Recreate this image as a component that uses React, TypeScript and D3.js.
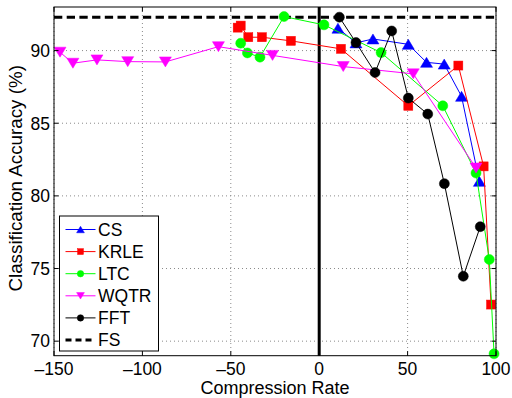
import React from "react";
import * as d3 from "d3";

// Axis ticks
const xTicks = [-150, -100, -50, 0, 50, 100];
const yTicks = [70, 75, 80, 85, 90];

// Series: compression rate (x) vs. classification accuracy (y)
const csX = [10.6, 20.8, 30.4, 50.4, 60.7, 70.7, 80.5, 90.6];
const csY = [91.54, 90.53, 90.8, 90.43, 89.19, 89.07, 86.85, 81.0];

const krleX = [-46.1, -44.4, -40.1, -32.4, -16.0, 12.3, 50.4, 78.7, 93.0, 97.2];
const krleY = [91.58, 91.72, 90.92, 90.92, 90.67, 90.12, 86.2, 88.97, 82.03, 72.52];

const ltcX = [-44.4, -40.6, -33.5, -19.9, 2.7, 35.0, 69.9, 88.7, 96.2, 98.9];
const ltcY = [90.51, 89.84, 89.55, 92.34, 91.77, 89.86, 86.2, 81.57, 75.62, 69.13];

const wqtrX = [-146.6, -139.3, -125.7, -108.3, -87.0, -57.0, -26.4, 13.6, 53.2, 88.7];
const wqtrY = [89.89, 89.13, 89.36, 89.24, 89.22, 90.27, 89.67, 88.9, 88.4, 81.92];

const fftX = [11.4, 20.8, 31.6, 41.0, 50.4, 61.4, 70.8, 81.5, 91.1];
const fftY = [92.3, 90.55, 88.49, 91.35, 86.73, 85.63, 80.84, 74.47, 77.88];

const fsAccuracy = 92.3;

const seriesNames = ["CS", "KRLE", "LTC", "WQTR", "FFT"];
const seriesColors = ["#0000ff", "#ff0000", "#00ff00", "#ff00ff", "#000000"];
const seriesMarkers = ["up", "square", "circle", "down", "circle"];
const seriesXs = [csX, krleX, ltcX, wqtrX, fftX];
const seriesYs = [csY, krleY, ltcY, wqtrY, fftY];

const W = 512;
const H = 398;
const left = 54;
const right = 496;
const top = 7;
const bottom = 355.7;

const FONT = "'Liberation Sans', Arial, Helvetica, sans-serif";

function Marker({ kind, x, y, color, s }: { kind: string; x: number; y: number; color: string; s: number }) {
  if (kind === "circle") {
    return <circle cx={x} cy={y} r={s / 2} fill={color} stroke={color} strokeWidth={0.5} />;
  }
  if (kind === "square") {
    const h = s * 0.9;
    return <rect x={x - h / 2} y={y - h / 2} width={h} height={h} fill={color} stroke={color} strokeWidth={0.5} />;
  }
  const hw = s * 0.6;
  const hh = s * 0.5;
  const pts =
    kind === "up"
      ? [[x, y - hh], [x + hw, y + hh], [x - hw, y + hh]]
      : [[x, y + hh], [x + hw, y - hh], [x - hw, y - hh]];
  return <polygon points={pts.map((p) => p.join(",")).join(" ")} fill={color} stroke={color} strokeWidth={0.5} />;
}

export default function App() {
  const x = d3.scaleLinear().domain([-150, 100]).range([left, right]);
  const y = d3.scaleLinear().domain([69, 93]).range([bottom, top]);
  const line = d3
    .line<[number, number]>()
    .x((d) => x(d[0]))
    .y((d) => y(d[1]));

  const tickLen = 4.5;
  const legX = 59.5;
  const legY = 216;
  const legW = 99;
  const legH = 135;
  const legRow0 = 229.5;
  const legStep = 22.1;

  return (
    <svg width={W} height={H} style={{ position: "absolute", left: 0, top: 0, background: "#fff" }}>
      <rect x={0} y={0} width={W} height={H} fill="#fff" />
      {/* dotted grid */}
      <g stroke="#8a8a8a" strokeWidth={1} strokeDasharray="1,3">
        {xTicks.map((t) => (
          <line key={"gx" + t} x1={x(t)} x2={x(t)} y1={top} y2={bottom} />
        ))}
        {yTicks.map((t) => (
          <line key={"gy" + t} x1={left} x2={right} y1={y(t)} y2={y(t)} />
        ))}
      </g>

      {/* zero compression reference and full-signal accuracy */}
      <line x1={x(0)} x2={x(0)} y1={top} y2={bottom} stroke="#000" strokeWidth={3} />
      <line
        x1={left}
        x2={right}
        y1={y(fsAccuracy)}
        y2={y(fsAccuracy)}
        stroke="#000"
        strokeWidth={3}
        strokeDasharray="8.3,4.4"
      />

      {/* series */}
      {seriesNames.map((name, i) => {
        const pts: [number, number][] = seriesXs[i].map((v, j) => [v, seriesYs[i][j]]);
        return (
          <g key={name}>
            <path d={line(pts) || ""} fill="none" stroke={seriesColors[i]} strokeWidth={1} />
            {pts.map((p, j) => (
              <Marker key={j} kind={seriesMarkers[i]} x={x(p[0])} y={y(p[1])} color={seriesColors[i]} s={10} />
            ))}
          </g>
        );
      })}

      {/* axes box and ticks */}
      <rect x={left} y={top} width={right - left} height={bottom - top} fill="none" stroke="#000" strokeWidth={1} />
      <g stroke="#000" strokeWidth={1}>
        {xTicks.map((t) => (
          <g key={"tx" + t}>
            <line x1={x(t)} x2={x(t)} y1={bottom} y2={bottom - tickLen} />
            <line x1={x(t)} x2={x(t)} y1={top} y2={top + tickLen} />
          </g>
        ))}
        {yTicks.map((t) => (
          <g key={"ty" + t}>
            <line x1={left} x2={left + tickLen} y1={y(t)} y2={y(t)} />
            <line x1={right} x2={right - tickLen} y1={y(t)} y2={y(t)} />
          </g>
        ))}
      </g>
      <g fontFamily={FONT} fontSize={17.5} fill="#000">
        {xTicks.map((t) => (
          <text key={"lx" + t} x={x(t)} y={375} textAnchor="middle">
            {t < 0 ? "\u2013" + Math.abs(t) : String(t)}
          </text>
        ))}
        {yTicks.map((t) => (
          <text key={"ly" + t} x={50} y={y(t) + 6.3} textAnchor="end">
            {t}
          </text>
        ))}
      </g>
      <text x={(left + right) / 2} y={394} textAnchor="middle" fontFamily={FONT} fontSize={18}>
        Compression Rate
      </text>
      <text
        transform={`translate(22,${(top + bottom) / 2 - 3}) rotate(-90)`}
        textAnchor="middle"
        fontFamily={FONT}
        fontSize={18.8}
      >
        Classification Accuracy (%)
      </text>

      {/* legend */}
      <rect x={legX} y={legY} width={legW} height={legH} fill="#fff" stroke="#000" strokeWidth={1} />
      {seriesNames.map((name, i) => {
        const cy = legRow0 + i * legStep;
        return (
          <g key={"leg" + name}>
            <line x1={65.5} x2={95.5} y1={cy} y2={cy} stroke={seriesColors[i]} strokeWidth={1} />
            <Marker kind={seriesMarkers[i]} x={80.5} y={cy} color={seriesColors[i]} s={6.5} />
            <text x={98} y={cy + 6.3} fontFamily={FONT} fontSize={17.5}>
              {name}
            </text>
          </g>
        );
      })}
      <line
        x1={65.5}
        x2={95.5}
        y1={legRow0 + 5 * legStep}
        y2={legRow0 + 5 * legStep}
        stroke="#000"
        strokeWidth={3}
        strokeDasharray="6,4"
      />
      <text x={98} y={legRow0 + 5 * legStep + 6.3} fontFamily={FONT} fontSize={17.5}>
        FS
      </text>
    </svg>
  );
}
